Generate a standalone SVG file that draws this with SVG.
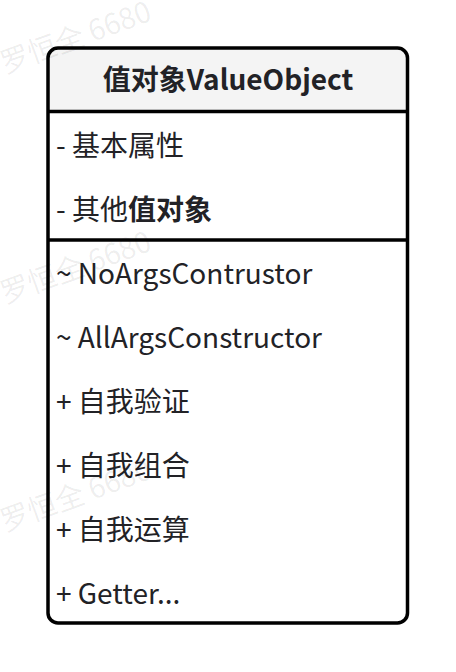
<svg xmlns="http://www.w3.org/2000/svg" width="456" height="672" viewBox="0 0 456 672">
<style>
.t{font-family:"Noto Sans CJK SC","Noto Sans",sans-serif;font-size:28px;fill:#222226}
.b{font-weight:bold}
.wm{font-family:"Noto Sans CJK SC","Noto Sans",sans-serif;font-size:29px;fill:#000;fill-opacity:0.07}
.ln{stroke:#000;stroke-width:3.5;fill:none}
</style>
<rect width="456" height="672" fill="#fff"/>
<g id="ValueObject">
<path d="M48,112 V58 A10,10 0 0 1 58,48 H397.5 A10,10 0 0 1 407.5,58 V112 Z" fill="#f4f4f4"/>
<rect x="48" y="48" width="359.5" height="575" rx="10" ry="10" class="ln"/>
<line x1="48" y1="111.5" x2="407.5" y2="111.5" class="ln"/>
<line x1="48" y1="240" x2="407.5" y2="240" class="ln"/>
<text class="t b" x="228" y="90" text-anchor="middle">值对象ValueObject</text>
<text class="t" x="56" y="156">- 基本属性</text>
<text class="t" x="56" y="220">- 其他<tspan class="b">值对象</tspan></text>
<text class="t" x="56" y="284">~ NoArgsContrustor</text>
<text class="t" x="56" y="348">~ AllArgsConstructor</text>
<text class="t" x="56" y="412">+ 自我验证</text>
<text class="t" x="56" y="476">+ 自我组合</text>
<text class="t" x="56" y="540">+ 自我运算</text>
<text class="t" x="56" y="604">+ Getter...</text>
</g>
<g id="watermark">
<text class="wm" transform="translate(5,74) rotate(-20)">罗恒全 6680</text>
<text class="wm" transform="translate(5,304) rotate(-20)">罗恒全 6680</text>
<text class="wm" transform="translate(5,532) rotate(-20)">罗恒全 6680</text>
</g>
</svg>
